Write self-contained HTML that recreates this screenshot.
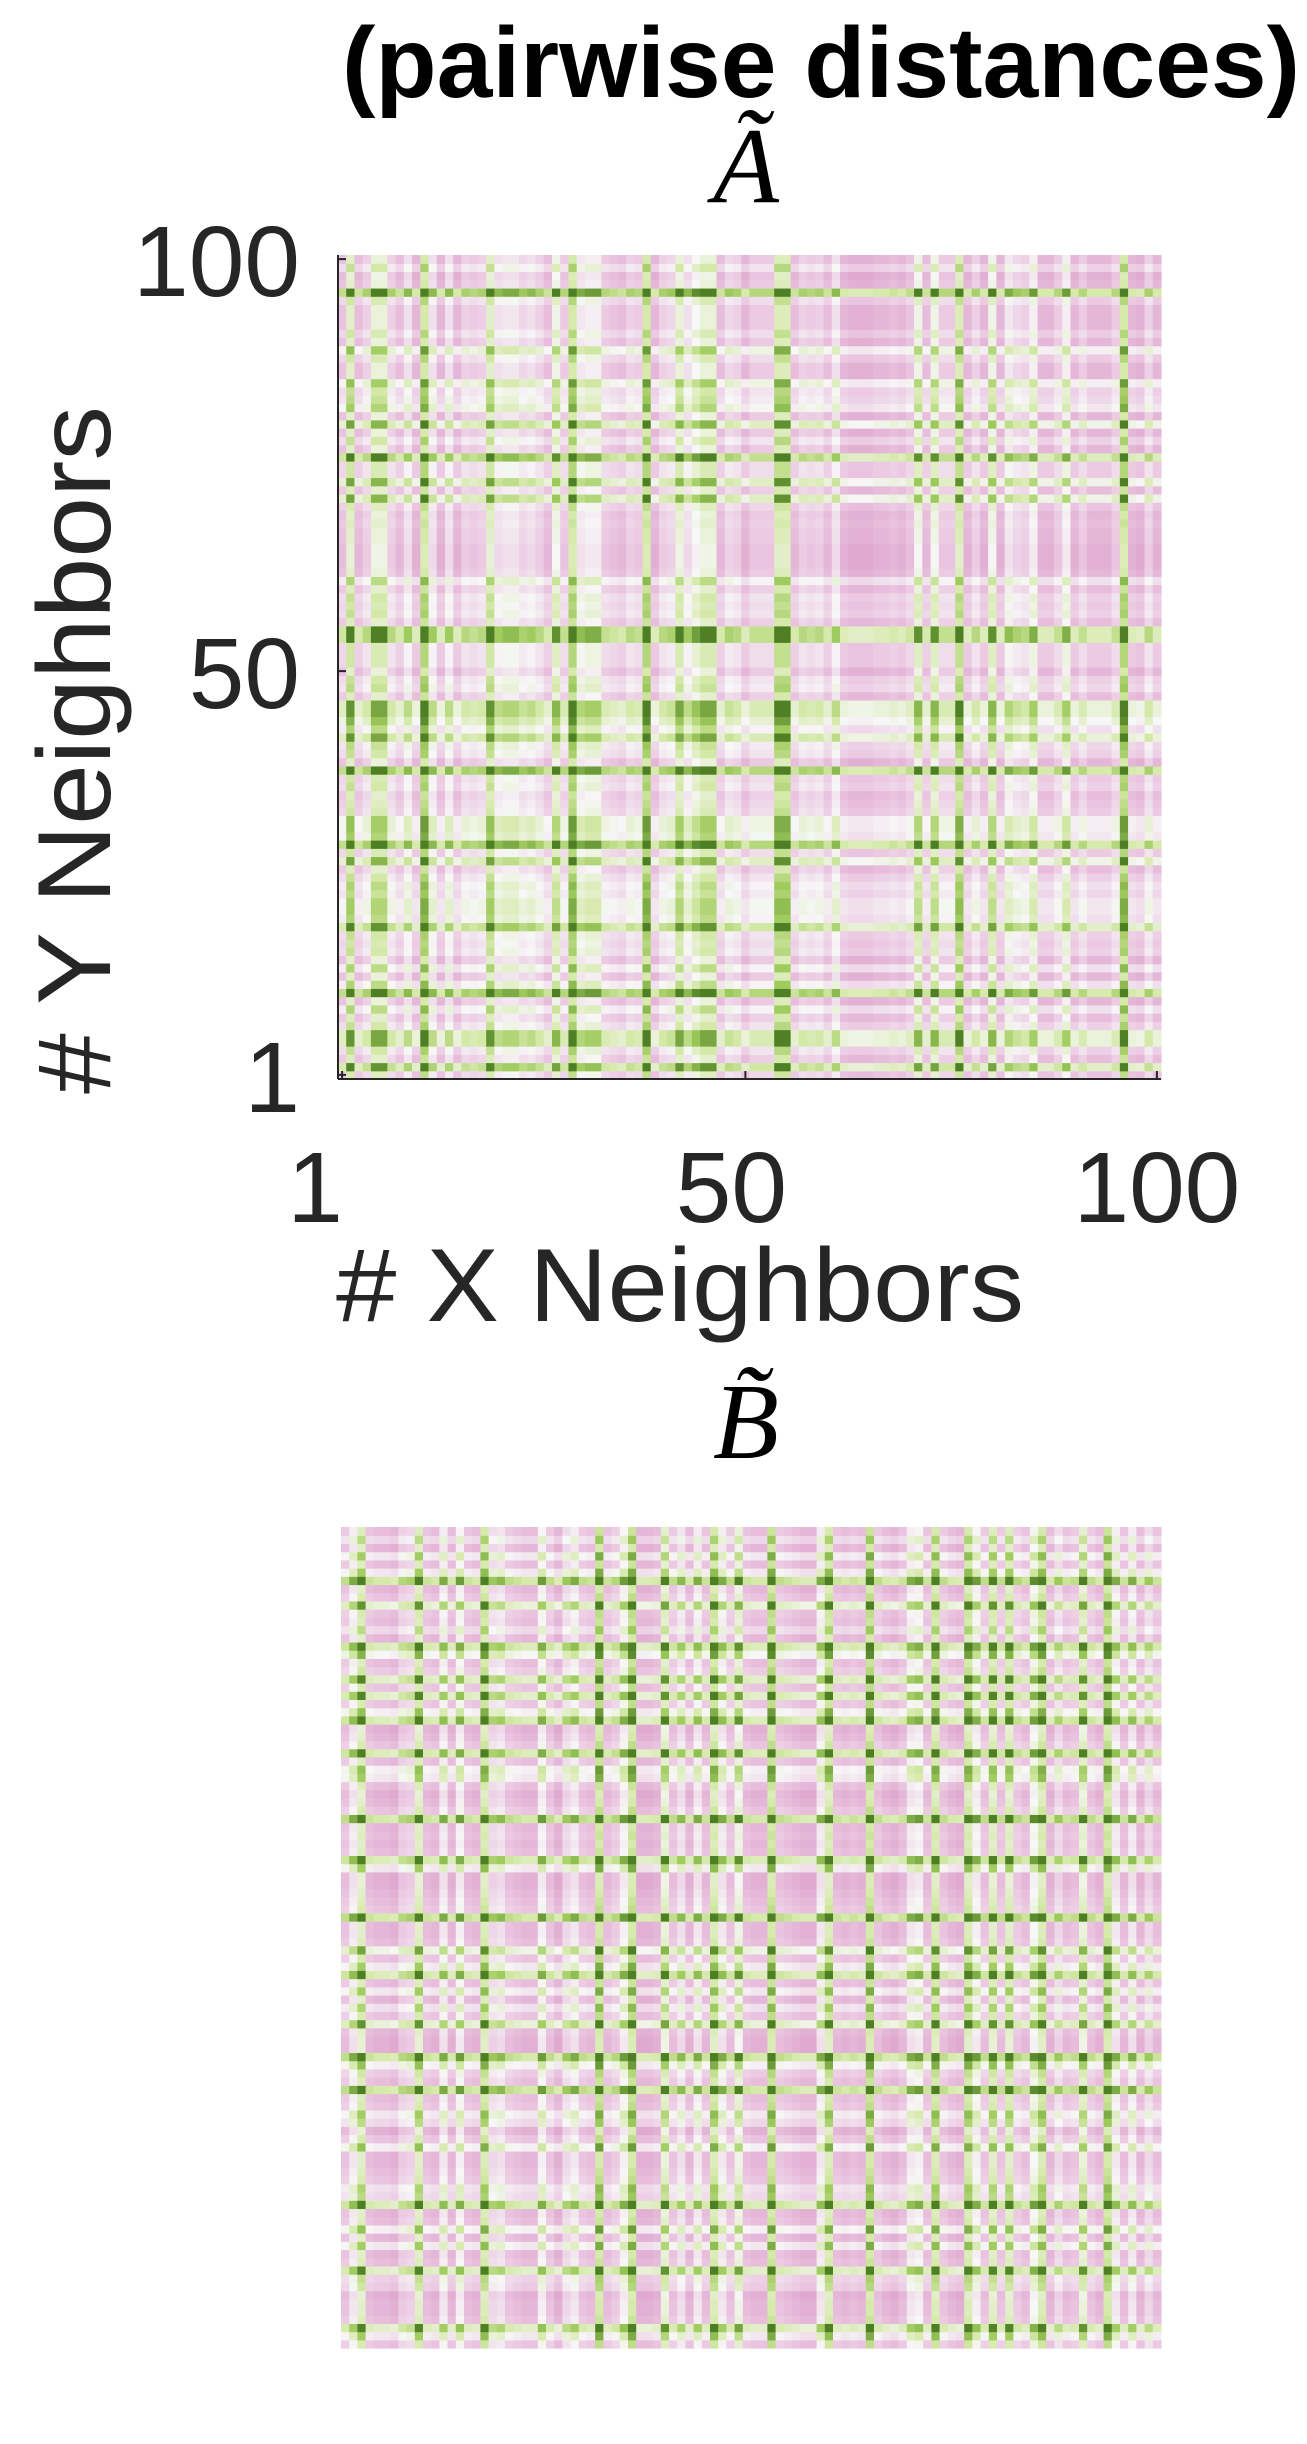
<!DOCTYPE html>
<html><head><meta charset="utf-8"><style>
html,body{margin:0;padding:0;background:#fff;}
svg{display:block;}
</style></head><body>
<svg id="fig" width="1307" height="2444" viewBox="0 0 1307 2444" xmlns="http://www.w3.org/2000/svg">
<text x="342" y="97" font-family="Liberation Sans, sans-serif" font-weight="bold" font-size="100" textLength="958" lengthAdjust="spacingAndGlyphs" fill="#000">(pairwise distances)</text>
<text x="746" y="202" text-anchor="middle" font-family="Liberation Serif, serif" font-style="italic" font-size="108" fill="#000">Ã</text>
<g id="heatA"></g>
<g id="axesA"></g>
<text transform="translate(110,1094) rotate(-90)" font-family="Liberation Sans, sans-serif" font-size="104" textLength="688" lengthAdjust="spacingAndGlyphs" fill="#262626"># Y Neighbors</text>
<text x="336" y="1321" font-family="Liberation Sans, sans-serif" font-size="104" textLength="688" lengthAdjust="spacingAndGlyphs" fill="#262626"># X Neighbors</text>
<text x="746" y="1458" text-anchor="middle" font-family="Liberation Serif, serif" font-style="italic" font-size="108" fill="#000">B̃</text>
<g id="heatB"></g>
</svg>
<script>
const aValues = [-0.3,0.7,-0.4,-0.1,0.6,0.6,-0.1,-0.4,0.1,-0.5,0.9,0.1,-0.5,0.1,-0.5,-0.1,-0.2,-0.1,0.7,0.1,0.2,0.2,0,0.1,-0.1,-0.4,0.5,-0.2,0.9,0.2,0.3,0.3,-0.2,-0.3,-0.4,-0.1,-0.2,0.9,-0.5,-0.1,0,0.6,0.1,0.4,0.6,0.6,-0.4,0,-0.1,-0.5,-0.2,-0.2,-0.2,0.8,0.8,-0.4,-0.1,-0.2,-0.1,-0.4,0.1,-0.5,-0.6,-0.6,-0.6,-0.5,-0.5,-0.4,-0.5,-0.3,0.5,-0.4,0.5,-0.2,-0.2,0.8,-0.5,-0.1,-0.5,0.5,-0.5,0.2,0,-0.1,0.3,-0.5,-0.5,-0.2,0.3,-0.5,-0.2,-0.5,-0.5,-0.5,-0.2,0.9,-0.5,-0.6,-0.1,-0.5];
const bValues = [-0.3,0.2,0.7,-0.4,-0.5,-0.5,-0.6,-0.2,-0.1,0.7,-0.4,-0.5,0.2,-0.5,0.3,-0.4,-0.5,0.8,0,0.1,-0.3,-0.4,-0.5,-0.5,0.3,-0.3,-0.6,0,0.2,-0.3,-0.4,0.9,-0.4,-0.2,0.3,0.9,-0.6,-0.6,-0.5,0.6,-0.3,0.1,-0.5,0.2,-0.4,0.8,0.2,-0.3,0.5,-0.4,-0.5,-0.5,0.9,-0.3,-0.4,-0.5,-0.6,-0.6,0.2,0.8,-0.4,-0.5,-0.4,-0.5,0.9,-0.3,-0.5,-0.6,-0.4,0.2,0.3,-0.4,0.8,-0.3,-0.5,-0.6,0.8,0.3,-0.3,0.7,-0.3,0.7,-0.2,-0.4,0.4,0.8,-0.5,0,-0.4,-0.3,0.6,-0.3,-0.5,0.9,0.2,-0.4,0.2,-0.5,0,-0.4];
const tickValues = [1,50,100];
const tickLabels = ["1","50","100"];

const NS="http://www.w3.org/2000/svg";
const stops=[[-1,[213,143,192]],[-0.5,[233,195,223]],[0,[247,247,247]],[0.4,[212,233,168]],[0.7,[157,201,91]],[1,[79,127,37]]];
function color(v){v=Math.max(-1,Math.min(1,v));for(let k=0;k<stops.length-1;k++){const a=stops[k],b=stops[k+1];if(v<=b[0]){const t=(v-a[0])/(b[0]-a[0]);const c=a[1].map((x,i)=>Math.round(x+(b[1][i]-x)*t));return `rgb(${c[0]},${c[1]},${c[2]})`;}}return "rgb(79,127,37)";}
function cell(a,b){return 1.25*(a+b)/2 + 0.15*Math.max(0,Math.max(a,b));}
function drawHeat(gid,vals,x0,y0,x1,y1,name){
  const g=document.getElementById(gid);const n=vals.length;
  const sx=i=>x0+(x1-x0)*i/n, sy=j=>y1-(y1-y0)*(j+1)/n;
  for(let i=0;i<n;i++)for(let j=0;j<n;j++){
    const r=document.createElementNS(NS,"rect");
    r.setAttribute("x",sx(i).toFixed(2));r.setAttribute("y",sy(j).toFixed(2));
    r.setAttribute("width",((x1-x0)/n+0.6).toFixed(2));r.setAttribute("height",((y1-y0)/n+0.6).toFixed(2));
    r.setAttribute("fill",color(cell(vals[i],vals[j])));
    
    
    g.appendChild(r);
  }
}
drawHeat("heatA",aValues,338,255,1161,1079,"heatmap-a");
drawHeat("heatB",bValues,341,1527,1161,2348,"heatmap-b");
const ax=document.getElementById("axesA");
const X0=338,X1=1161,Y0=255,Y1=1079;
const xs=v=>X0+(X1-X0)*(v-0.5)/100, ys=v=>Y1-(Y1-Y0)*(v-0.5)/100;
function line(x1,y1,x2,y2,nm){const l=document.createElementNS(NS,"line");l.setAttribute("x1",x1);l.setAttribute("y1",y1);l.setAttribute("x2",x2);l.setAttribute("y2",y2);l.setAttribute("stroke","#262626");l.setAttribute("stroke-width","2");


ax.appendChild(l);}
line(X0,Y0,X0,Y1,"y-axis-line");line(X0,Y1,X1,Y1,"x-axis-line");
const xLabelShift=[-27,-14,0];
tickValues.forEach((v,k)=>{
  line(X0,ys(v),X0+8,ys(v),"y-tick");
  line(xs(v),Y1,xs(v),Y1-8,"x-tick");
  const ty=document.createElementNS(NS,"text");
  ty.setAttribute("x",300);ty.setAttribute("y",ys(v)+37);ty.setAttribute("text-anchor","end");
  ty.setAttribute("font-family","Liberation Sans, sans-serif");ty.setAttribute("font-size","100");ty.setAttribute("fill","#262626");
  ty.textContent=tickLabels[k];
  
  
  ax.appendChild(ty);
  const tx=document.createElementNS(NS,"text");
  tx.setAttribute("x",xs(v)+xLabelShift[k]);tx.setAttribute("y",1222);tx.setAttribute("text-anchor","middle");
  tx.setAttribute("font-family","Liberation Sans, sans-serif");tx.setAttribute("font-size","100");tx.setAttribute("fill","#262626");
  tx.textContent=tickLabels[k];
  
  
  ax.appendChild(tx);
});
</script>
</body></html>
